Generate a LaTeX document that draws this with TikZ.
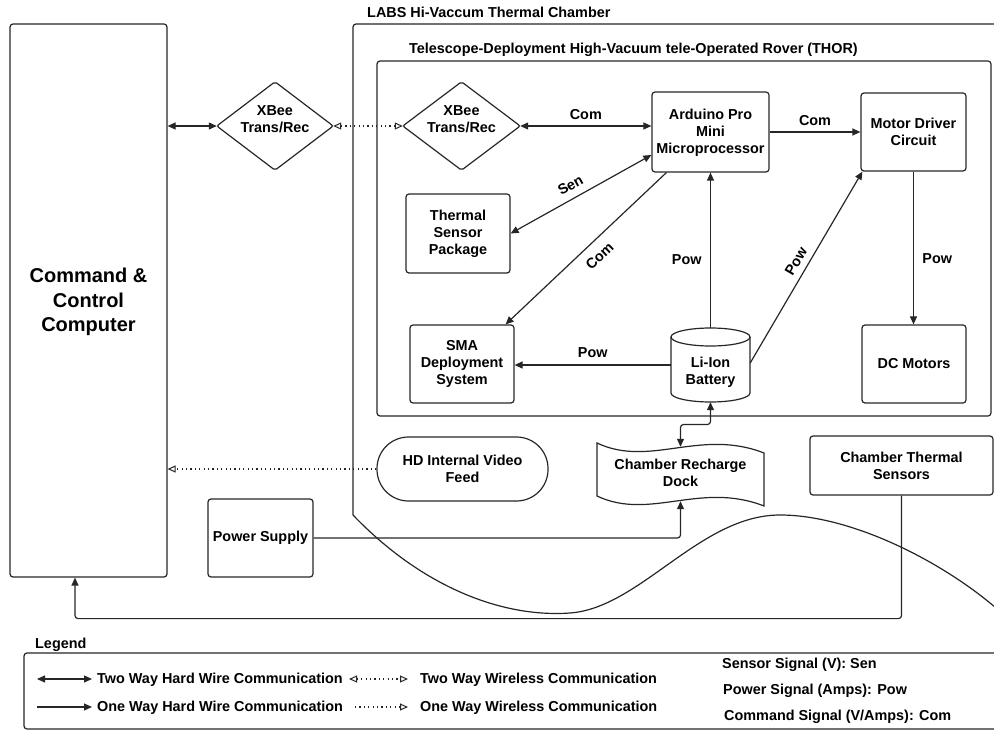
\documentclass[tikz,border=0pt]{standalone}
\usepackage{fontspec}
\setmainfont{Liberation Sans}
\usetikzlibrary{arrows.meta,calc}
\newcommand\lblfont{\fontsize{14.4}{17}\selectfont\bfseries}
\newcommand\bigccfont{\fontsize{20}{24.5}\selectfont\bfseries}
\begin{document}
\begin{tikzpicture}[x=1pt,y=-1pt,
  every node/.style={font=\lblfont, text=black},
  box/.style={draw=black!85, rounded corners=3pt, line width=1.2pt, align=center, inner sep=0pt},
  ghost/.style={inner sep=0pt, align=center},
  ln/.style={line width=1.2pt, draw=black!85},
  tip/.tip={Triangle[length=8pt,width=7pt]},
  otip/.tip={Triangle[open,length=8pt,width=7pt,line width=1pt]},
  one/.style={ln, -tip},
  two/.style={ln, tip-tip},
  wl/.style={line width=1.1pt, draw=black!85, dash pattern=on 1.2pt off 3.2pt},
  wltwo/.style={wl, otip-otip},
  wlone/.style={wl, -otip},
  txt/.style={anchor=west, inner sep=0pt}
]
\useasboundingbox (0,0) rectangle (994,730);

% titles
\node[txt] (t1) at (367,12) {LABS Hi-Vaccum Thermal Chamber};
\node[txt] (t2) at (409,50) {Telescope-Deployment High-Vacuum tele-Operated Rover (THOR)};

% chamber and rover outlines
\draw[ln, rounded corners=3pt] (353,515) -- (353,24) -- (994,24);
\draw[ln] (353,515) .. controls (420,585) and (500,618) .. (570,613)
  .. controls (640,608) and (700,515) .. (780,515)
  .. controls (850,515) and (940,560) .. (996,608);
\draw[ln, rounded corners=3pt] (377,61) rectangle (991,416);

% nodes
\node[box, minimum width=157pt, minimum height=553pt, font=\bigccfont] (cc) at (88.5,300.5) {};
\node[ghost, font=\bigccfont] (cct) at (88.5,302) {Command \&\\Control\\Computer};

\node[ghost, minimum width=116pt, minimum height=88pt] (xb1) at (275,126) {};
\draw[ln, rounded corners=2pt] (xb1.north) -- (xb1.east) -- (xb1.south) -- (xb1.west) -- cycle;
\node[ghost] (xb1t) at ([yshift=7pt]xb1.center) {XBee\\Trans/Rec};

\node[ghost, minimum width=117pt, minimum height=88pt] (xb2) at (461.5,126) {};
\draw[ln, rounded corners=2pt] (xb2.north) -- (xb2.east) -- (xb2.south) -- (xb2.west) -- cycle;
\node[ghost] (xb2t) at ([yshift=7pt]xb2.center) {XBee\\Trans/Rec};

\node[box, minimum width=117pt, minimum height=80pt] (ard) at (710.5,132) {};
\node[ghost] (ardt) at (710.5,133) {Arduino Pro\\Mini\\Microprocessor};
\node[box, minimum width=105pt, minimum height=78pt] (mdc) at (913.5,132) {Motor Driver\\Circuit};
\node[box, minimum width=104pt, minimum height=79pt] (tsp) at (458,233.5) {Thermal\\Sensor\\Package};
\node[box, minimum width=104pt, minimum height=78pt] (sma) at (462,364) {SMA\\Deployment\\System};
\node[box, minimum width=104pt, minimum height=78pt] (dcm) at (914,364) {DC Motors};

% battery cylinder
\node[ghost, minimum width=79pt, minimum height=74pt] (bat) at (710.5,365) {};
\draw[ln] (671,337) -- (671,393) arc[start angle=180, end angle=360, x radius=39.5pt, y radius=9pt] -- (750,337);
\draw[ln] (710.5,337) ellipse[x radius=39.5pt, y radius=9pt];
\node[ghost] (batt) at (710.5,372) {Li-Ion\\Battery};

% recharge dock (tape)
\node[ghost, minimum width=167pt, minimum height=54pt] (dock) at (680.5,474) {};
\draw[ln] (597,443) .. controls (650,468) and (700,428) .. (764,453)
  -- (764,506) .. controls (700,481) and (650,521) .. (597,496) -- cycle;
\node[ghost] (dockt) at (680.5,472.5) {Chamber Recharge\\Dock};

\node[box, minimum width=105pt, minimum height=78pt] (ps) at (260.5,538) {Power Supply};
\node[box, rounded corners=31.5pt, minimum width=171pt, minimum height=64pt] (hd) at (462.5,469) {HD Internal Video\\Feed};
\node[box, minimum width=183pt, minimum height=59pt] (cts) at (901.5,465.5) {Chamber Thermal\\Sensors};

% connectors
\draw[two] (xb1.west -| cc.east) -- (xb1.west);
\draw[wltwo] (xb1.east) -- (xb2.west);
\draw[two] (xb2.east) -- (xb2.east -| ard.west) node[midway, above=2pt] (lc1) {Com};
\draw[one] (ard.east) -- (ard.east -| mdc.west) node[midway, above=2pt] (lc2) {Com};
\draw[two] (tsp.east) -- ([yshift=-23pt]ard.west) node[pos=0.47, sloped, above=4pt] (ls1) {Sen};
\draw[one] ([xshift=15pt]ard.south west) -- ([xshift=-9pt]sma.north east) node[pos=0.48, sloped, below=6pt] (lc3) {Com};
\draw[one] (bat.west) -- (bat.west -| sma.east) node[midway, above=3pt] (lp1) {Pow};
\draw[one] (bat.north) -- (bat.north |- ard.south) node[pos=0.44, left=5pt] (lp2) {Pow};
\draw[one] ([yshift=2pt]bat.east) -- ([xshift=2pt]mdc.south west) node[pos=0.5, sloped, above=3pt] (lp3) {Pow};
\draw[one] (mdc.south) -- (mdc.south |- dcm.north) node[pos=0.57, right=5pt] (lp4) {Pow};
\draw[two, rounded corners=3pt] (bat.south) |- ($(bat.south)!0.5!(dock.north)$) -| (dock.north);
\draw[one, rounded corners=3pt] (ps.east) -| (dock.south);
\draw[wlone] (hd.west) -- (hd.west -| cc.east);
\draw[one, rounded corners=3pt] (cts.south) -- ++(0,123) -| ([xshift=-13.5pt]cc.south);

% legend
\node[txt] (lg) at (35,645) {Legend};
\draw[ln, rounded corners=3pt] (994,653) -- (24,653) -- (24,729) -- (994,729);
\coordinate (a1) at (37,679); \coordinate (b1) at (92,679);
\coordinate (a2) at (37,707); \coordinate (b2) at (92,707);
\coordinate (c1) at (349,679); \coordinate (d1) at (408,679);
\coordinate (c2) at (355,707); \coordinate (d2) at (408,707);
\draw[two] (a1) -- (b1);
\draw[one] (a2) -- (b2);
\draw[wltwo] (c1) -- (d1);
\draw[wlone] (c2) -- (d2);
\node[txt] (lt1) at (97,680) {Two Way Hard Wire Communication};
\node[txt] (lt2) at (97,708) {One Way Hard Wire Communication};
\node[txt] (lt3) at (420,680) {Two Way Wireless Communication};
\node[txt] (lt4) at (420,708) {One Way Wireless Communication};
\node[txt] (lr1) at (722,665) {Sensor Signal (V): Sen};
\node[txt] (lr2) at (723,691) {Power Signal (Amps): Pow};
\node[txt] (lr3) at (724,717) {Command Signal (V/Amps): Com};
\end{tikzpicture}
\end{document}
